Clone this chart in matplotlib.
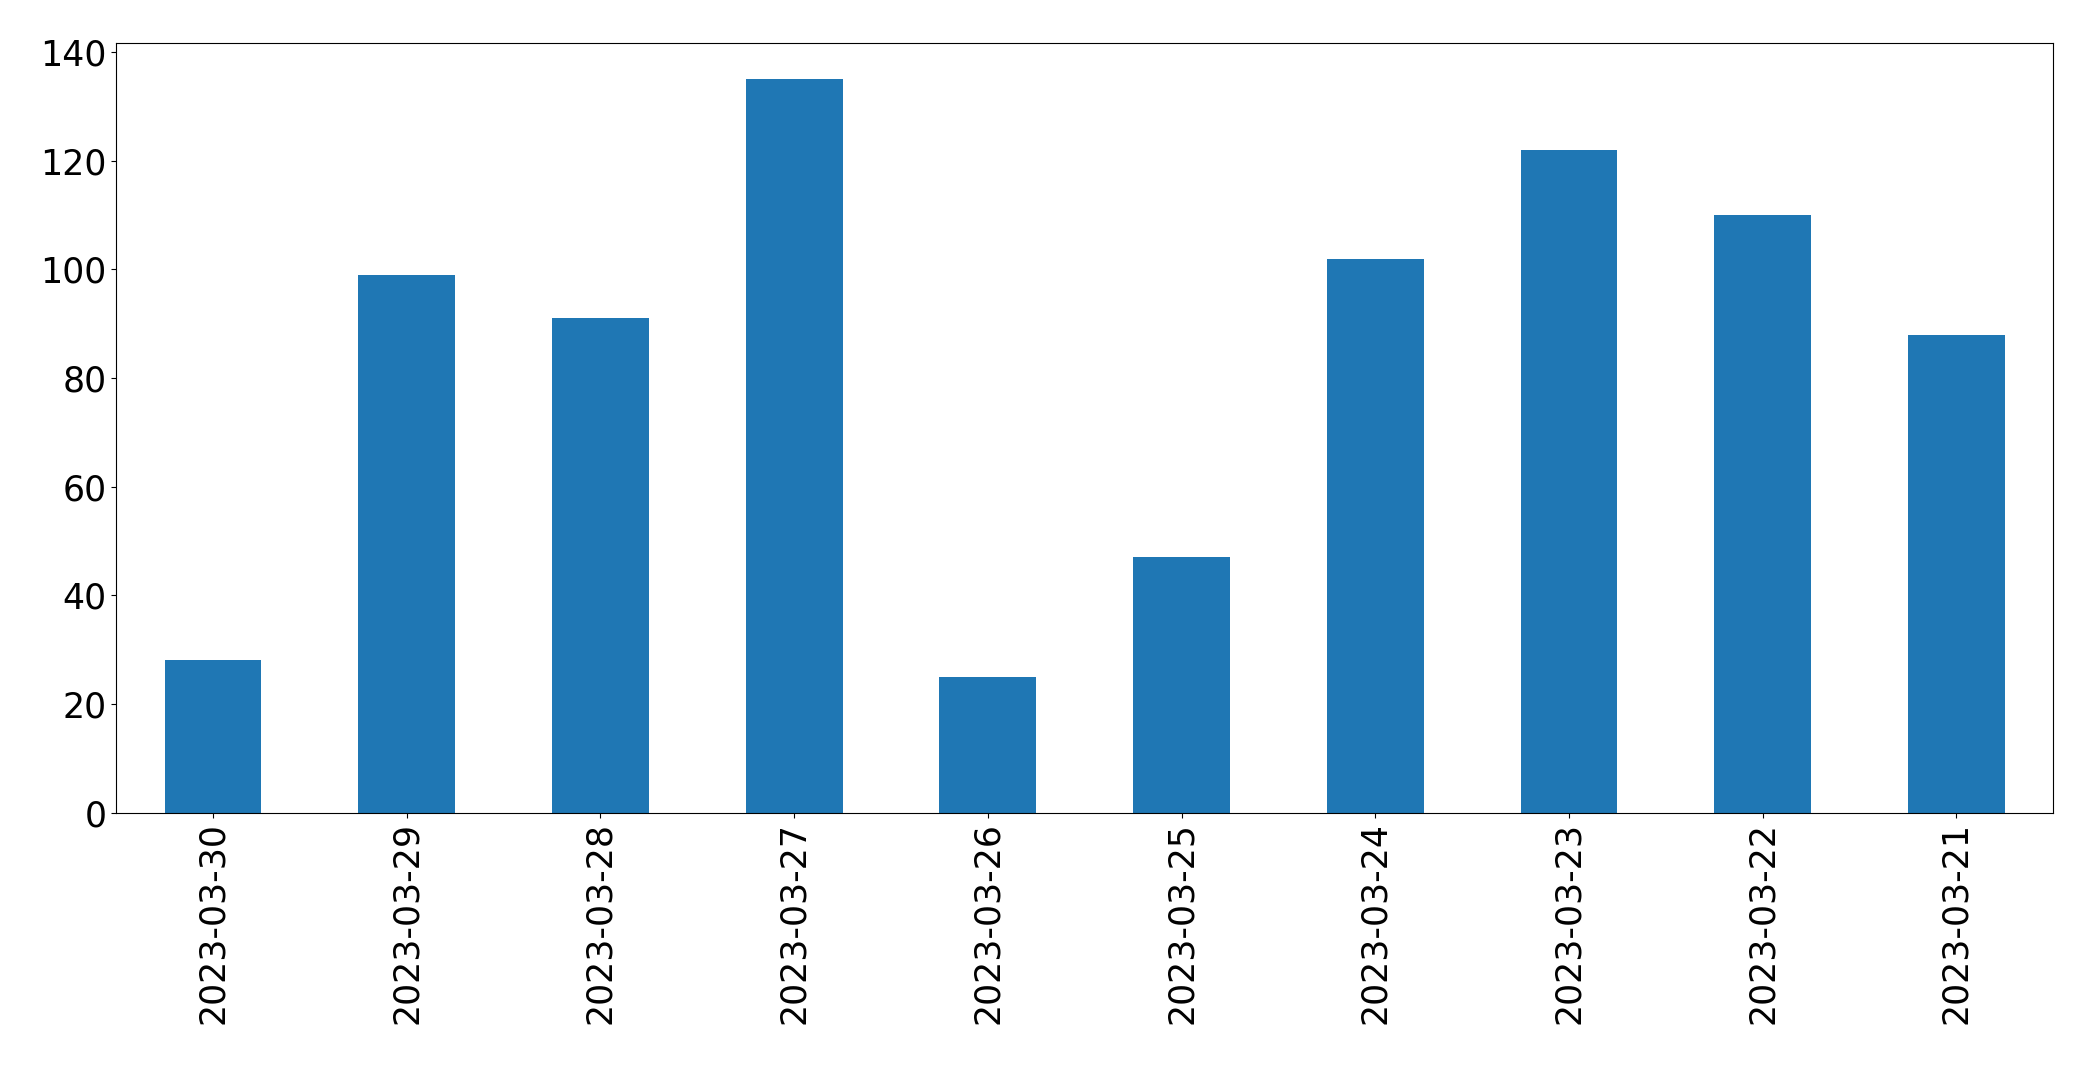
import matplotlib
matplotlib.use("Agg")
import matplotlib.pyplot as plt
import pandas as pd

dates = ["2023-03-30", "2023-03-29", "2023-03-28", "2023-03-27", "2023-03-26",
         "2023-03-25", "2023-03-24", "2023-03-23", "2023-03-22", "2023-03-21"]
counts = [28, 99, 91, 135, 25, 47, 102, 122, 110, 88]

plt.rcParams["font.size"] = 25

series = pd.Series(counts, index=dates)
fig, ax = plt.subplots(figsize=(20.93, 10.65), dpi=100)
series.plot(kind="bar", ax=ax, color="#1f77b4")
ax.set_yticks(range(0, 141, 20))
plt.subplots_adjust(left=0.0555, right=0.981, top=0.96, bottom=0.237)
fig.savefig("out.png", dpi=100)
